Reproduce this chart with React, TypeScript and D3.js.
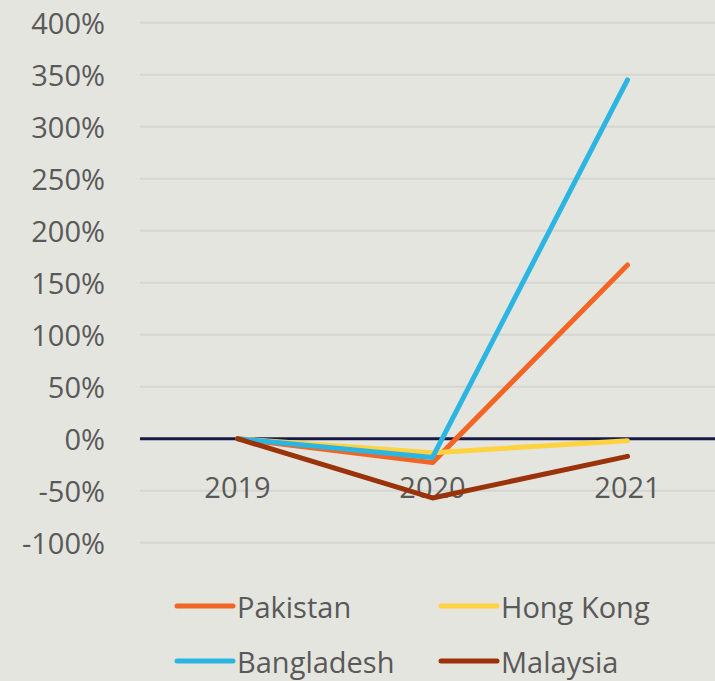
import React from "react";
import * as d3 from "d3";

const years = ["2019", "2020", "2021"];
const seriesNames = ["Pakistan", "Hong Kong", "Bangladesh", "Malaysia"];
const pakistan = [0, -0.23, 1.67];
const hongKong = [0, -0.135, -0.02];
const bangladesh = [0, -0.18, 3.45];
const malaysia = [0, -0.57, -0.17];
const seriesColors = ["#F26524", "#FFD23F", "#2BB5E2", "#9A3309"];
const yTicks = [4, 3.5, 3, 2.5, 2, 1.5, 1, 0.5, 0, -0.5, -1];

const W = 715;
const H = 681;

export default function App() {
  const seriesValues = [pakistan, hongKong, bangladesh, malaysia];
  const x = d3.scaleBand<string>().domain(years).range([140, 725]);
  const y = d3.scaleLinear().domain([-1, 4]).range([542.7, 22.7]);
  const cx = (d: string) => (x(d) as number) + x.bandwidth() / 2;
  const line = d3
    .line<number>()
    .x((_, i) => cx(years[i]))
    .y((v) => y(v));
  const fmt = (v: number) => d3.format(".0%")(v).replace("\u2212", "-");
  const font = "'Open Sans', sans-serif";
  const textColor = "#595959";

  const legendPos = [
    { x: 177, y: 606 },
    { x: 441, y: 606 },
    { x: 177, y: 661 },
    { x: 441, y: 661 },
  ];

  return (
    <svg
      width={W}
      height={H}
      style={{ position: "absolute", left: 0, top: 0 }}
      fontFamily={font}
    >
      <rect width={W} height={H} fill="#E5E5DF" />
      {yTicks.map((t) => (
        <g key={t}>
          {t !== 0 && (
            <line x1={140} x2={W} y1={y(t)} y2={y(t)} stroke="#D5D5D1" strokeWidth={2} />
          )}
          <text
            x={105}
            y={y(t)}
            textAnchor="end"
            dominantBaseline="central"
            fontSize={29}
            fill={textColor}
          >
            {fmt(t)}
          </text>
        </g>
      ))}
      {years.map((yr) => (
        <text
          key={yr}
          x={cx(yr)}
          y={486}
          textAnchor="middle"
          dominantBaseline="central"
          fontSize={29}
          fill={textColor}
        >
          {yr}
        </text>
      ))}
      <line x1={140} x2={W} y1={y(0)} y2={y(0)} stroke="#171A48" strokeWidth={3} />
      {seriesValues.map((vals, i) => (
        <path
          key={seriesNames[i]}
          d={line(vals) || ""}
          fill="none"
          stroke={seriesColors[i]}
          strokeWidth={5}
          strokeLinecap="round"
          strokeLinejoin="round"
        />
      ))}
      {seriesNames.map((name, i) => (
        <g key={name}>
          <line
            x1={legendPos[i].x}
            x2={legendPos[i].x + 56}
            y1={legendPos[i].y}
            y2={legendPos[i].y}
            stroke={seriesColors[i]}
            strokeWidth={5}
            strokeLinecap="round"
          />
          <text
            x={legendPos[i].x + 60}
            y={legendPos[i].y}
            dominantBaseline="central"
            fontSize={29}
            fill={textColor}
          >
            {name}
          </text>
        </g>
      ))}
    </svg>
  );
}
